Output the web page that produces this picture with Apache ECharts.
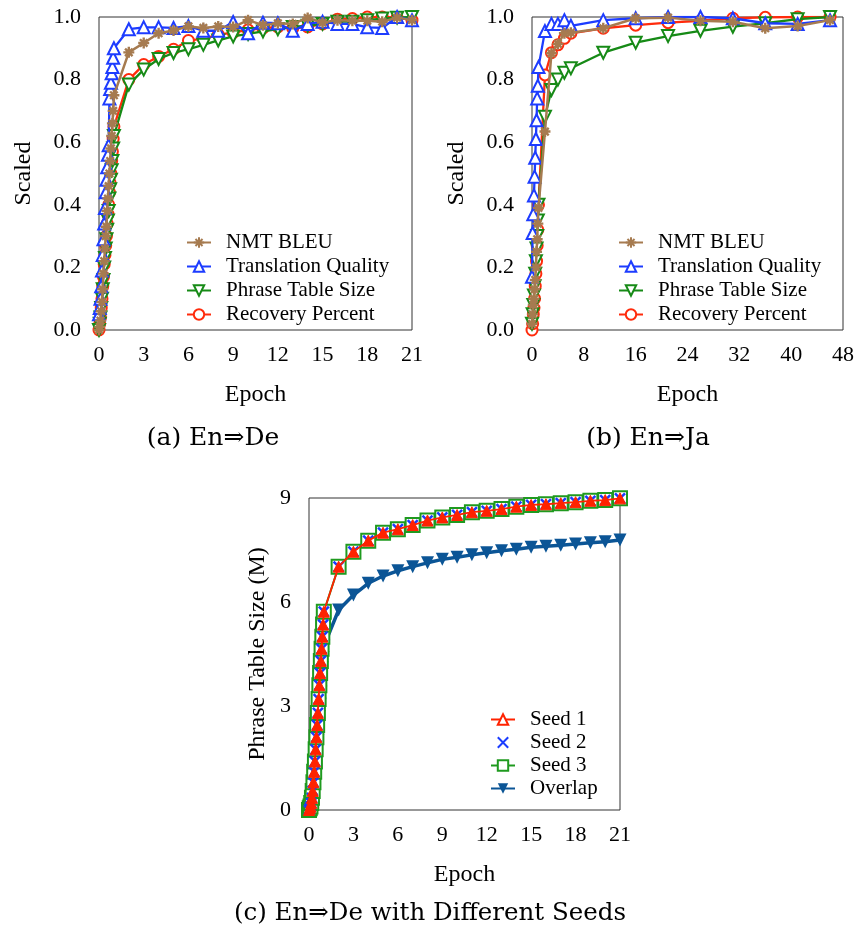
<!DOCTYPE html>
<html>
<head>
<meta charset="utf-8">
<script src="https://cdn.jsdelivr.net/npm/echarts@6/dist/echarts.min.js"></script>
<style>html,body{margin:0;padding:0;background:#fff}#c{width:858px;height:932px}</style>
</head>
<body>
<div id="c"></div>
<script>
// ---------- data ----------
const epochA = [0,0.05,0.1,0.15,0.2,0.25,0.3,0.35,0.4,0.45,0.5,0.55,0.6,0.65,0.7,0.75,0.8,0.85,0.9,0.95,1,2,3,4,5,6,7,8,9,10,11,12,13,14,15,16,17,18,19,20,21];
const bleuA = [0.0,0.01,0.03,0.06,0.09,0.13,0.18,0.22,0.26,0.30,0.33,0.38,0.42,0.46,0.50,0.54,0.58,0.62,0.66,0.70,0.75,
  0.887,0.917,0.948,0.957,0.97,0.965,0.97,0.968,0.99,0.974,0.98,0.978,0.997,0.982,0.99,0.988,0.988,0.985,0.998,0.99];
const qualityA = [0.05,0.07,0.10,0.14,0.19,0.24,0.29,0.34,0.39,0.44,0.48,0.52,0.56,0.59,0.74,0.77,0.79,0.82,0.84,0.87,0.90,
  0.961,0.967,0.967,0.965,0.971,0.956,0.956,0.984,0.948,0.982,0.98,0.956,0.978,0.985,0.978,0.978,0.967,0.965,1.0,0.99];
const phraseA = [0.0,0.02,0.04,0.07,0.10,0.13,0.16,0.20,0.23,0.26,0.29,0.32,0.35,0.38,0.42,0.45,0.48,0.51,0.54,0.58,0.62,
  0.784,0.832,0.866,0.885,0.897,0.911,0.925,0.938,0.946,0.954,0.961,0.968,0.972,0.978,0.985,0.985,0.99,0.995,0.998,1.0];
const recoveryA = [0.0,0.02,0.04,0.07,0.10,0.14,0.17,0.21,0.24,0.27,0.30,0.34,0.37,0.40,0.44,0.47,0.50,0.54,0.57,0.61,0.65,
  0.80,0.848,0.874,0.897,0.925,0.93,0.944,0.95,0.959,0.964,0.968,0.964,0.968,0.978,0.993,0.995,1.0,1.0,0.998,0.99];

const epochB = [0,0.1,0.2,0.3,0.4,0.5,0.6,0.7,0.8,0.9,1,2,3,4,5,6,11,16,21,26,31,36,41,46];
const bleuB = [0.02,0.05,0.08,0.10,0.13,0.16,0.20,0.25,0.29,0.34,0.39,
  0.634,0.884,0.914,0.948,0.95,0.964,0.996,0.998,0.988,0.985,0.964,0.971,0.99];
const qualityB = [0.17,0.31,0.37,0.43,0.49,0.55,0.61,0.67,0.74,0.78,0.84,
  0.955,0.978,0.978,0.99,0.972,0.99,0.996,1.0,1.0,0.996,0.98,0.978,0.99];
const phraseB = [0.02,0.05,0.08,0.11,0.14,0.18,0.22,0.26,0.30,0.35,0.40,
  0.681,0.767,0.80,0.822,0.836,0.886,0.918,0.939,0.956,0.969,0.98,0.993,1.0];
const recoveryB = [0.0,0.02,0.05,0.07,0.10,0.14,0.18,0.22,0.27,0.32,0.40,
  0.815,0.886,0.911,0.932,0.948,0.964,0.974,0.982,0.988,0.996,0.999,1.0,1.0];

const epochC = [0,0.05,0.1,0.15,0.2,0.25,0.3,0.35,0.4,0.45,0.5,0.55,0.6,0.65,0.7,0.75,0.8,0.85,0.9,0.95,1,2,3,4,5,6,7,8,9,10,11,12,13,14,15,16,17,18,19,20,21];
const seed1 = [0,0.05,0.1,0.2,0.35,0.55,0.8,1.1,1.4,1.75,2.1,2.45,2.8,3.2,3.6,3.95,4.3,4.65,5.0,5.35,5.72,
  7.02,7.45,7.77,8.0,8.1,8.22,8.35,8.44,8.51,8.59,8.63,8.68,8.75,8.80,8.82,8.85,8.88,8.92,8.94,8.99];
const seed2 = [0,0.05,0.1,0.2,0.35,0.55,0.8,1.1,1.4,1.75,2.1,2.45,2.8,3.2,3.6,3.95,4.3,4.65,5.0,5.35,5.72,
  7.02,7.45,7.77,8.0,8.1,8.22,8.35,8.44,8.51,8.59,8.63,8.68,8.75,8.80,8.82,8.85,8.88,8.92,8.94,8.99];
const seed3 = [0,0.05,0.1,0.2,0.35,0.55,0.8,1.1,1.4,1.75,2.1,2.45,2.8,3.2,3.6,3.95,4.3,4.65,5.0,5.35,5.72,
  7.02,7.45,7.77,8.0,8.1,8.22,8.35,8.44,8.51,8.59,8.63,8.68,8.75,8.80,8.82,8.85,8.88,8.92,8.94,8.99];
const overlap = [0,0.03,0.07,0.13,0.22,0.35,0.5,0.7,0.92,1.15,1.4,1.7,2.0,2.35,2.7,3.05,3.4,3.75,4.1,4.4,4.72,
  5.77,6.2,6.54,6.75,6.9,7.02,7.13,7.23,7.29,7.36,7.42,7.48,7.52,7.58,7.61,7.64,7.67,7.71,7.74,7.79];

const namesAB = ['NMT BLEU','Translation Quality','Phrase Table Size','Recovery Percent'];
const namesC = ['Seed 1','Seed 2','Seed 3','Overlap'];
const captions = ['(a) En\u21D2De','(b) En\u21D2Ja','(c) En\u21D2De with Different Seeds'];

// ---------- styles ----------
const FF = 'Liberation Serif';
const BROWN = '#a67b50', BLUE = '#1d3cff', GREEN = '#168a16', RED = '#ff2b0c';
const SRED = '#ff2200', SBLUE = '#1a3cff', SGREEN = '#1f9a1f', NAVY = '#0b5596';
const STAR = 'path://M5,0L5,10M0,5L10,5M1.6,1.6L8.4,8.4M8.4,1.6L1.6,8.4';
const CROSS = 'path://M0,0L10,10M10,0L0,10';

function zip(xs, ys){ return xs.map((x,i)=>[x, ys[i]]); }

function abSeries(g, xs, bleu, qual, phr, rec){
  return [
    {name:namesAB[3], type:'line', xAxisIndex:g, yAxisIndex:g, data:zip(xs,rec),
     symbol:'emptyCircle', symbolSize:11, lineStyle:{color:RED,width:2.3}, itemStyle:{color:RED,borderColor:RED,borderWidth:1.8}, z:2},
    {name:namesAB[2], type:'line', xAxisIndex:g, yAxisIndex:g, data:zip(xs,phr),
     symbol:'emptyTriangle', symbolRotate:180, symbolSize:12, lineStyle:{color:GREEN,width:2.3}, itemStyle:{color:GREEN,borderColor:GREEN,borderWidth:1.8}, z:3},
    {name:namesAB[1], type:'line', xAxisIndex:g, yAxisIndex:g, data:zip(xs,qual),
     symbol:'emptyTriangle', symbolSize:12, lineStyle:{color:BLUE,width:2.3}, itemStyle:{color:BLUE,borderColor:BLUE,borderWidth:1.8}, z:4},
    {name:namesAB[0], type:'line', xAxisIndex:g, yAxisIndex:g, data:zip(xs,bleu),
     symbol:STAR, symbolSize:11, lineStyle:{color:BROWN,width:2.5}, itemStyle:{color:BROWN,borderColor:BROWN,borderWidth:2.4}, z:5}
  ];
}

const axisLabel = {fontFamily:FF, fontSize:22, color:'#000'};
const nameStyle = {fontFamily:FF, fontSize:24, color:'#000'};

function xAx(g, max, interval){
  return {gridIndex:g, type:'value', min:0, max:max, interval:interval,
    splitLine:{show:false}, axisTick:{show:false}, axisLine:{show:false},
    axisLabel:Object.assign({margin:14}, axisLabel),
    name:'Epoch', nameLocation:'middle', nameGap:53, nameTextStyle:nameStyle};
}
function yAx(g, max, interval, name, gap, fmt){
  return {gridIndex:g, type:'value', min:0, max:max, interval:interval,
    splitLine:{show:false}, axisTick:{show:false}, axisLine:{show:false},
    axisLabel:Object.assign({margin:18, formatter:fmt}, axisLabel),
    name:name, nameLocation:'middle', nameGap:gap, nameTextStyle:nameStyle};
}

const legendText = {fontFamily:FF, fontSize:21, color:'#000', padding:[0,0,0,10]};

const option = {
  animation:false,
  backgroundColor:'#fff',
  grid:[
    {left:99, top:17, width:313, height:313, show:true, borderColor:'#333', borderWidth:1, backgroundColor:'transparent'},
    {left:532, top:17, width:311, height:313, show:true, borderColor:'#333', borderWidth:1, backgroundColor:'transparent'},
    {left:309, top:498, width:311, height:312, show:true, borderColor:'#333', borderWidth:1, backgroundColor:'transparent'}
  ],
  xAxis:[ xAx(0,21,3), xAx(1,48,8), xAx(2,21,3) ],
  yAxis:[
    yAx(0,1,0.2,'Scaled',63,v=>v.toFixed(1)),
    yAx(1,1,0.2,'Scaled',63,v=>v.toFixed(1)),
    yAx(2,9,3,'Phrase Table Size (M)',39,v=>String(v))
  ],
  legend:[
    {orient:'vertical', left:181, top:227, itemWidth:24, itemHeight:13, itemGap:3, textStyle:legendText, data:namesAB, selectedMode:false},
    {orient:'vertical', left:613, top:227, itemWidth:24, itemHeight:13, itemGap:3, textStyle:legendText, data:namesAB, selectedMode:false},
    {orient:'vertical', left:485, top:704, itemWidth:24, itemHeight:13, itemGap:2, textStyle:legendText, selectedMode:false,
     data:[
       {name:namesC[0], itemStyle:{color:'#fff', borderColor:SRED, borderWidth:2}},
       {name:namesC[1]},
       {name:namesC[2]},
       {name:namesC[3]}
     ]}
  ],
  series:[].concat(
    abSeries(0, epochA, bleuA, qualityA, phraseA, recoveryA),
    abSeries(1, epochB, bleuB, qualityB, phraseB, recoveryB),
    [
      {name:namesC[3], type:'line', xAxisIndex:2, yAxisIndex:2, data:zip(epochC,overlap),
       symbol:'triangle', symbolRotate:180, symbolSize:13, lineStyle:{color:NAVY,width:3.5}, itemStyle:{color:NAVY}, z:2},
      {name:namesC[2], type:'line', xAxisIndex:2, yAxisIndex:2, data:zip(epochC,seed3),
       symbol:'emptyRect', symbolSize:14, lineStyle:{color:SGREEN,width:2}, itemStyle:{color:SGREEN,borderColor:SGREEN,borderWidth:2}, z:3},
      {name:namesC[1], type:'line', xAxisIndex:2, yAxisIndex:2, data:zip(epochC,seed2),
       symbol:CROSS, symbolSize:10, lineStyle:{color:SBLUE,width:0,opacity:0}, itemStyle:{color:SBLUE,borderColor:SBLUE,borderWidth:2.5}, z:4},
      {name:namesC[0], type:'line', xAxisIndex:2, yAxisIndex:2, data:zip(epochC,seed1),
       symbol:'triangle', symbolSize:11, lineStyle:{color:SRED,width:1.8}, itemStyle:{color:SRED,borderColor:SRED,borderWidth:1}, z:5}
    ]
  ),
  graphic:[
    {type:'text', x:213, y:438, style:{text:captions[0], fontFamily:'DejaVu Serif', fontSize:25, fill:'#000', align:'center', verticalAlign:'middle'}},
    {type:'text', x:648, y:438, style:{text:captions[1], fontFamily:'DejaVu Serif', fontSize:25, fill:'#000', align:'center', verticalAlign:'middle'}},
    {type:'text', x:430, y:914, style:{text:captions[2], fontFamily:'DejaVu Serif', fontSize:24.5, fill:'#000', align:'center', verticalAlign:'middle'}}
  ]
};

const chart = echarts.init(document.getElementById('c'), null, {renderer:'canvas'});
chart.setOption(option);
</script>
</body>
</html>
